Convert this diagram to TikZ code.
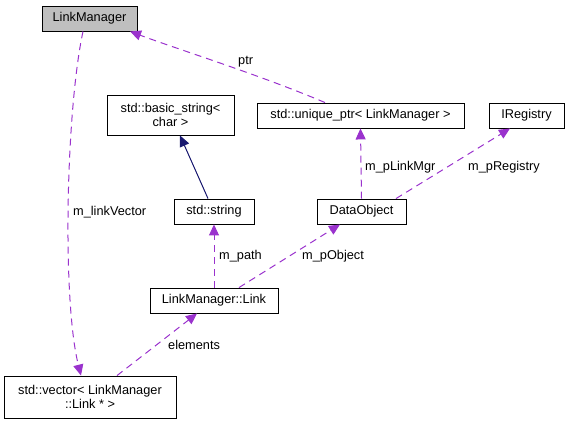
\documentclass[tikz,border=0pt]{standalone}
\usepackage{fontspec}
\setmainfont{Liberation Sans}
\usetikzlibrary{arrows.meta}
\definecolor{edgepurple}{HTML}{9A32CD}
\definecolor{edgenavy}{HTML}{191970}
\begin{document}
\begin{tikzpicture}[x=1bp,y=-1bp,
    every node/.style={font=\fontsize{12.8}{14}\selectfont},
    cls/.style={draw=black,line width=0.9bp,minimum height=25bp,inner sep=1bp,align=center},
    usage/.style={edgepurple,line width=1bp,dash pattern=on 7bp off 5bp,
        -{Triangle[length=11bp,width=10bp]}},
    inherit/.style={edgenavy,line width=1bp,-{Triangle[length=11bp,width=10bp]}},
    lbl/.style={text=black,inner sep=0pt,anchor=west}]
    \useasboundingbox (0,0) rectangle (569,424);
    % classes
    \node[cls,fill=black!25,minimum width=95bp] (mgr) at (89.5,18.5) {LinkManager};
    \node[cls,minimum width=127bp,minimum height=40bp] (basic) at (170.5,115) {std::basic\_string<\\char >};
    \node[cls,minimum width=207bp] (uptr) at (360.5,115.5) {std::unique\_ptr< LinkManager >};
    \node[cls,minimum width=75bp] (ireg) at (526.5,115.5) {IRegistry};
    \node[cls,minimum width=80bp] (str) at (214,211.5) {std::string};
    \node[cls,minimum width=89bp] (data) at (361.5,211.5) {DataObject};
    \node[cls,minimum width=128bp] (link) at (214,300.5) {LinkManager::Link};
    \node[cls,minimum width=172bp,minimum height=42bp] (vec) at (90,397) {std::vector< LinkManager\\::Link * >};
    % relations
    \draw[inherit] (str.north -| 208,0) -- (basic.south -| 180,0);
    \draw[usage] (mgr.south -| 83,0) .. controls (66,110) and (62,300) .. (vec.north -| 81,0);
    \node[lbl] (lvec) at (73,212) {m\_linkVector};
    \draw[usage] (uptr.north -| 325,0) .. controls (260,75) and (180,50) .. (mgr.south east -| 130,0);
    \node[lbl] (lptr) at (238,62) {ptr};
    \draw[usage] (data.north) -- (uptr.south);
    \node[lbl] (lmgr) at (365,167) {m\_pLinkMgr};
    \draw[usage] (data.north -| 396,0) -- (ireg.south -| 510,0);
    \node[lbl] (lreg) at (468,167) {m\_pRegistry};
    \draw[usage] (link.north) -- (str.south);
    \node[lbl] (lpath) at (219,256) {m\_path};
    \draw[usage] (link.north -| 239,0) -- (data.south -| 340,0);
    \node[lbl] (lobj) at (302,256) {m\_pObject};
    \draw[usage] (vec.north -| 117,0) -- (link.south -| 197,0);
    \node[lbl] (lelem) at (168,345) {elements};
\end{tikzpicture}
\end{document}
